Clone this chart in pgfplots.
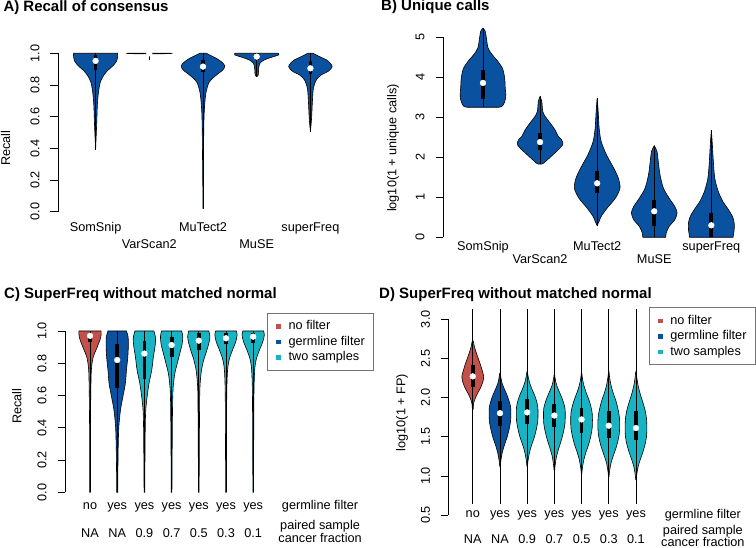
\documentclass[border=0pt]{standalone}
\usepackage{fontspec}
\setmainfont{Liberation Sans}
\usepackage{pgfplots}
\pgfplotsset{compat=1.18}
\usepackage{pgfplotstable}
\usepgfplotslibrary{fillbetween}

\definecolor{vblue}{RGB}{10,82,160}
\definecolor{vred}{RGB}{196,80,75}
\definecolor{vcyan}{RGB}{25,180,196}

% violin outlines: y, half width (x units)
\pgfplotstableread{
y w
0.39 0.0
0.55 0.02
0.68 0.034
0.76 0.056
0.82 0.09
0.86 0.15
0.89 0.22
0.92 0.32
0.95 0.39
0.98 0.41
1.00 0.41
}\vAa
\pgfplotstableread{
y w
0.996 0.0
0.998 0.38
1.000 0.41
}\vAb
\pgfplotstableread{
y w
0.02 0.0
0.53 0.015
0.67 0.03
0.76 0.06
0.82 0.12
0.863 0.25
0.895 0.37
0.922 0.405
0.947 0.34
0.968 0.25
0.99 0.12
1.00 0.06
}\vAc
\pgfplotstableread{
y w
0.853 0.0
0.863 0.028
0.905 0.037
0.937 0.06
0.958 0.14
0.973 0.26
0.99 0.41
1.00 0.40
}\vAd
\pgfplotstableread{
y w
0.505 0.0
0.59 0.022
0.695 0.037
0.78 0.056
0.832 0.11
0.863 0.20
0.888 0.34
0.916 0.405
0.937 0.37
0.958 0.30
0.979 0.17
1.00 0.05
}\vAe

\pgfplotstableread{
y w
3.25 0.27
3.27 0.33
3.32 0.36
3.44 0.39
3.57 0.40
3.73 0.39
3.90 0.385
4.07 0.37
4.23 0.34
4.40 0.26
4.57 0.16
4.73 0.09
4.98 0.06
5.15 0.04
5.23 0.0
}\vBa
\pgfplotstableread{
y w
1.83 0.03
1.86 0.07
1.90 0.10
2.03 0.20
2.19 0.32
2.30 0.39
2.36 0.40
2.45 0.37
2.52 0.32
2.69 0.26
2.86 0.175
3.02 0.09
3.15 0.047
3.40 0.03
3.52 0.0
}\vBb
\pgfplotstableread{
y w
0.29 0.0
0.40 0.035
0.52 0.07
0.73 0.175
0.98 0.32
1.23 0.40
1.48 0.37
1.73 0.29
2.07 0.16
2.40 0.07
2.73 0.035
3.15 0.018
3.48 0.0
}\vBc
\pgfplotstableread{
y w
0.00 0.20
0.11 0.21
0.27 0.26
0.44 0.36
0.61 0.40
0.77 0.36
0.98 0.26
1.23 0.16
1.57 0.10
1.90 0.07
2.15 0.047
2.29 0.0
}\vBd
\pgfplotstableread{
y w
0.00 0.38
0.19 0.40
0.36 0.40
0.52 0.37
0.69 0.30
0.90 0.20
1.15 0.12
1.48 0.06
1.90 0.035
2.32 0.018
2.68 0.0
}\vBe

\pgfplotstableread{
y w
0.00 0.01
0.45 0.018
0.70 0.037
0.78 0.06
0.84 0.12
0.882 0.22
0.924 0.32
0.965 0.40
1.00 0.41
}\vCa
\pgfplotstableread{
y w
0.00 0.018
0.138 0.025
0.283 0.037
0.407 0.06
0.51 0.12
0.593 0.21
0.676 0.30
0.758 0.34
0.84 0.39
0.913 0.41
0.965 0.40
1.00 0.34
}\vCb
\pgfplotstableread{
y w
0.00 0.012
0.386 0.03
0.51 0.05
0.593 0.10
0.676 0.17
0.758 0.27
0.84 0.33
0.903 0.39
0.955 0.41
1.00 0.35
}\vCc
\pgfplotstableread{
y w
0.00 0.012
0.345 0.025
0.55 0.037
0.655 0.06
0.738 0.12
0.80 0.21
0.86 0.30
0.913 0.38
0.965 0.41
1.00 0.37
}\vCd
\pgfplotstableread{
y w
0.00 0.012
0.552 0.03
0.676 0.05
0.758 0.10
0.82 0.18
0.872 0.28
0.924 0.37
0.965 0.41
1.00 0.37
}\vCe
\pgfplotstableread{
y w
0.00 0.012
0.552 0.025
0.696 0.04
0.779 0.07
0.83 0.13
0.882 0.24
0.934 0.36
0.975 0.41
1.00 0.38
}\vCf
\pgfplotstableread{
y w
0.00 0.012
0.552 0.025
0.700 0.04
0.785 0.07
0.835 0.13
0.886 0.24
0.936 0.36
0.977 0.41
1.00 0.38
}\vCg

\pgfplotstableread{
y w
1.85 0.015
1.92 0.03
1.98 0.08
2.05 0.17
2.12 0.28
2.20 0.37
2.27 0.40
2.34 0.35
2.42 0.28
2.50 0.20
2.58 0.12
2.65 0.06
2.72 0.02
}\vDa
\pgfplotstableread{
y w
1.12 0.01
1.19 0.03
1.29 0.08
1.39 0.16
1.49 0.26
1.60 0.34
1.70 0.39
1.80 0.40
1.88 0.39
1.95 0.34
2.03 0.26
2.11 0.16
2.18 0.08
2.26 0.03
2.31 0.01
}\vDb
\pgfplotstableread{
y w
1.12 0.01
1.19 0.03
1.29 0.08
1.39 0.16
1.49 0.26
1.60 0.34
1.70 0.39
1.80 0.40
1.88 0.39
1.96 0.34
2.04 0.26
2.12 0.16
2.20 0.08
2.28 0.03
2.33 0.01
}\vDc
\pgfplotstableread{
y w
1.07 0.01
1.14 0.03
1.25 0.08
1.35 0.16
1.46 0.26
1.57 0.34
1.67 0.39
1.78 0.40
1.86 0.39
1.93 0.34
2.01 0.26
2.09 0.16
2.16 0.08
2.24 0.03
2.29 0.01
}\vDd
\pgfplotstableread{
y w
1.03 0.01
1.10 0.03
1.20 0.08
1.30 0.16
1.40 0.26
1.51 0.34
1.61 0.39
1.71 0.40
1.80 0.39
1.89 0.34
1.98 0.26
2.07 0.16
2.16 0.08
2.25 0.03
2.31 0.01
}\vDe
\pgfplotstableread{
y w
0.99 0.01
1.06 0.03
1.16 0.08
1.25 0.16
1.35 0.26
1.45 0.34
1.55 0.39
1.65 0.40
1.75 0.39
1.85 0.34
1.96 0.26
2.06 0.16
2.16 0.08
2.26 0.03
2.33 0.01
}\vDf
\pgfplotstableread{
y w
0.95 0.01
1.02 0.03
1.12 0.08
1.21 0.16
1.31 0.26
1.41 0.34
1.51 0.39
1.61 0.40
1.72 0.39
1.83 0.34
1.93 0.26
2.04 0.16
2.15 0.08
2.26 0.03
2.33 0.01
}\vDg

% #1 position, #2 table, #3 colour, #4 unique name
\newcommand{\violin}[4]{%
  \addplot[draw=none, smooth, forget plot, name path=R#4] table[x expr={#1+\thisrow{w}}, y=y] {#2};
  \addplot[draw=none, smooth, forget plot, name path=L#4] table[x expr={#1-\thisrow{w}}, y=y] {#2};
  \addplot[fill=#3, draw=black, line width=0.6pt, forget plot] fill between[of=R#4 and L#4, reverse=true];
}
% #1 position, whisker low/high, box low/high, median
\newcommand{\vstats}[6]{%
  \addplot[black, line width=0.9pt, forget plot] coordinates {(#1,#2) (#1,#3)};
  \addplot[black, line width=3.8pt, forget plot] coordinates {(#1,#4) (#1,#5)};
  \addplot[only marks, mark=*, mark size=2.9pt, white, forget plot] coordinates {(#1,#6)};
}
% legend entry: coloured square, then text
\newcommand{\lgsq}[2]{\rule[-3pt]{0pt}{12.5pt}\raisebox{1.1pt}{\textcolor{#1}{\rule{4.6pt}{4.6pt}}}\hspace{7.7pt}#2}

\pgfplotsset{
  vio/.style={
    scale only axis, clip=false, enlargelimits=false,
    axis lines=left, axis line style={-, line width=0.6pt},
    x axis line style={draw=none},
    tick align=outside, major tick length=7.5pt,
    ytick style={line width=0.6pt, black},
    xtick style={draw=none},
    tick label style={font=\fontsize{12.7}{15}\selectfont},
    label style={font=\fontsize{12.7}{15}\selectfont},
    yticklabel style={inner sep=0pt, anchor=south, xshift=-10.7pt, rotate=90},
    xticklabel style={inner sep=0pt, anchor=base},
    /pgf/number format/assume math mode=true,
    legend cell align=left,
    legend style={anchor=north west, draw=black!55, line width=0.6pt,
      font=\fontsize{12.7}{15}\selectfont, inner xsep=8.7pt, inner ysep=7.4pt,
      row sep=4.5pt, nodes={inner sep=0pt}},
  },
  onedec/.style={/pgf/number format/fixed, /pgf/number format/fixed zerofill,
    /pgf/number format/precision=1},
}

\begin{document}
\begin{tikzpicture}[font=\fontsize{12.7}{15}\selectfont]

% A
\begin{axis}[vio, onedec, at={(58pt,336.3pt)}, anchor=south west,
  width=290pt, height=158.4pt, xmin=0.3, xmax=5.7, ymin=0, ymax=1,
  ytick={0,0.2,0.4,0.6,0.8,1},
  xtick={1,3,5}, xticklabels={SomSnip,MuTect2,superFreq},
  extra x ticks={2,4}, extra x tick labels={VarScan2,MuSE},
  xticklabel style={yshift=-12.7pt},
  extra x tick style={tick style={draw=none}, xticklabel style={yshift=-16.6pt}},
  ylabel={Recall}, ylabel style={at={(axis description cs:-0.181,0.402)}, anchor=center}]
\violin{1}{\vAa}{vblue}{Aa}
\vstats{1}{0.39}{1.0}{0.895}{0.99}{0.952}
\violin{2}{\vAb}{vblue}{Ab}
\vstats{2}{0.958}{1.0}{0.998}{1.0}{1.0}
\violin{3}{\vAc}{vblue}{Ac}
\vstats{3}{0.02}{1.0}{0.88}{0.96}{0.916}
\violin{4}{\vAd}{vblue}{Ad}
\vstats{4}{0.853}{1.0}{0.955}{1.0}{0.979}
\violin{5}{\vAe}{vblue}{Ae}
\vstats{5}{0.505}{1.0}{0.87}{0.95}{0.905}
\end{axis}

% B
\begin{axis}[vio, at={(443pt,310.7pt)}, anchor=south west,
  width=308.3pt, height=200pt, xmin=0.3, xmax=5.7, ymin=0, ymax=5,
  ytick={0,1,2,3,4,5},
  xtick={1,3,5}, xticklabels={SomSnip,MuTect2,superFreq},
  extra x ticks={2,4}, extra x tick labels={VarScan2,MuSE},
  xticklabel style={yshift=-5.4pt},
  extra x tick style={tick style={draw=none}, xticklabel style={yshift=-13.3pt}},
  ylabel={log10(1 + unique calls)}, ylabel style={at={(axis description cs:-0.162,0.447)}, anchor=center}]
\violin{1}{\vBa}{vblue}{Ba}
\vstats{1}{3.25}{5.23}{3.46}{4.19}{3.86}
\violin{2}{\vBb}{vblue}{Bb}
\vstats{2}{1.83}{3.52}{2.17}{2.61}{2.38}
\violin{3}{\vBc}{vblue}{Bc}
\vstats{3}{0.29}{3.48}{1.11}{1.65}{1.35}
\violin{4}{\vBd}{vblue}{Bd}
\vstats{4}{0.0}{2.29}{0.29}{0.92}{0.65}
\violin{5}{\vBe}{vblue}{Be}
\vstats{5}{0.0}{2.68}{0.0}{0.61}{0.30}
\end{axis}

% C
\begin{axis}[vio, onedec, at={(65pt,55.7pt)}, anchor=south west,
  width=204.5pt, height=161.3pt, xmin=0.08, xmax=7.6, ymin=0, ymax=1,
  ytick={0,0.2,0.4,0.6,0.8,1},
  xtick={1,2,3,4,5,6,7}, xticklabels={no,yes,yes,yes,yes,yes,yes},
  extra x ticks={1,2,3,4,5,6,7}, extra x tick labels={NA,NA,0.9,0.7,0.5,0.3,0.1},
  xticklabel style={yshift=-10.2pt},
  extra x tick style={tick style={draw=none}, xticklabel style={yshift=-27.3pt}},
  ylabel={Recall}, ylabel style={at={(axis description cs:-0.235,0.533)}, anchor=center},
  legend style={at={(axis cs:7.52,1.113)}}]
\addlegendimage{empty legend}\addlegendentry{\lgsq{vred}{no filter}}
\addlegendimage{empty legend}\addlegendentry{\lgsq{vblue}{germline filter}}
\addlegendimage{empty legend}\addlegendentry{\lgsq{vcyan}{two samples}}
\violin{1}{\vCa}{vred}{Ca}
\vstats{1}{0}{1}{0.93}{0.99}{0.97}
\violin{2}{\vCb}{vblue}{Cb}
\vstats{2}{0}{1}{0.645}{0.92}{0.82}
\violin{3}{\vCc}{vcyan}{Cc}
\vstats{3}{0}{1}{0.70}{0.94}{0.86}
\violin{4}{\vCd}{vcyan}{Cd}
\vstats{4}{0}{1}{0.837}{0.965}{0.913}
\violin{5}{\vCe}{vcyan}{Ce}
\vstats{5}{0}{1}{0.88}{0.985}{0.94}
\violin{6}{\vCf}{vcyan}{Cf}
\vstats{6}{0}{1}{0.92}{0.985}{0.955}
\violin{7}{\vCg}{vcyan}{Cg}
\vstats{7}{0}{1}{0.925}{0.99}{0.965}
\node[anchor=base, inner sep=0pt, yshift=-17.7pt] at (axis cs:9.46,0) {germline filter};
\node[anchor=base, inner sep=0pt, yshift=-37.6pt] at (axis cs:9.46,0) {paired sample};
\node[anchor=base, inner sep=0pt, yshift=-50.5pt] at (axis cs:9.46,0) {cancer fraction};
\end{axis}

% D
\begin{axis}[vio, onedec, at={(448.3pt,33pt)}, anchor=south west,
  width=204pt, height=195.8pt, xmin=0.1, xmax=7.6, ymin=0.5, ymax=3,
  ytick={0.5,1,1.5,2,2.5,3},
  xtick={1,2,3,4,5,6,7}, xticklabels={no,yes,yes,yes,yes,yes,yes},
  extra x ticks={1,2,3,4,5,6,7}, extra x tick labels={NA,NA,0.9,0.7,0.5,0.3,0.1},
  xticklabel style={yshift=4.5pt},
  extra x tick style={tick style={draw=none}, xticklabel style={yshift=-25.8pt}},
  ylabel={log10(1 + FP)}, ylabel style={at={(axis description cs:-0.227,0.523)}, anchor=center},
  legend style={at={(axis cs:7.48,3.153)}}]
\addlegendimage{empty legend}\addlegendentry{\lgsq{vred}{no filter}}
\addlegendimage{empty legend}\addlegendentry{\lgsq{vblue}{germline filter}}
\addlegendimage{empty legend}\addlegendentry{\lgsq{vcyan}{two samples}}
\violin{1}{\vDa}{vred}{Da}
\vstats{1}{0.64}{3.13}{2.13}{2.41}{2.27}
\violin{2}{\vDb}{vblue}{Db}
\vstats{2}{0.64}{3.13}{1.64}{1.955}{1.80}
\violin{3}{\vDc}{vcyan}{Dc}
\vstats{3}{0.64}{3.13}{1.66}{1.98}{1.81}
\violin{4}{\vDd}{vcyan}{Dd}
\vstats{4}{0.64}{3.13}{1.62}{1.92}{1.77}
\violin{5}{\vDe}{vcyan}{De}
\vstats{5}{0.64}{3.13}{1.55}{1.87}{1.72}
\violin{6}{\vDf}{vcyan}{Df}
\vstats{6}{0.64}{3.13}{1.48}{1.83}{1.64}
\violin{7}{\vDg}{vcyan}{Dg}
\vstats{7}{0.64}{3.13}{1.46}{1.83}{1.61}
\node[anchor=base, inner sep=0pt, yshift=-3.5pt] at (axis cs:9.46,0.5) {germline filter};
\node[anchor=base, inner sep=0pt, yshift=-19.5pt] at (axis cs:9.46,0.5) {paired sample};
\node[anchor=base, inner sep=0pt, yshift=-31.3pt] at (axis cs:9.46,0.5) {cancer fraction};
\end{axis}

\node[anchor=base west, inner sep=0pt, font=\bfseries\fontsize{15}{18}\selectfont] at (3.3pt,536pt) {A) Recall of consensus};
\node[anchor=base west, inner sep=0pt, font=\bfseries\fontsize{15}{18}\selectfont] at (381pt,537pt) {B) Unique calls};
\node[anchor=base west, inner sep=0pt, font=\bfseries\fontsize{15}{18}\selectfont] at (4pt,249.7pt) {C) SuperFreq without matched normal};
\node[anchor=base west, inner sep=0pt, font=\bfseries\fontsize{15}{18}\selectfont] at (379pt,249pt) {D) SuperFreq without matched normal};
\pgfresetboundingbox
\useasboundingbox (0,0) rectangle (756pt,548pt);
\end{tikzpicture}
\end{document}
